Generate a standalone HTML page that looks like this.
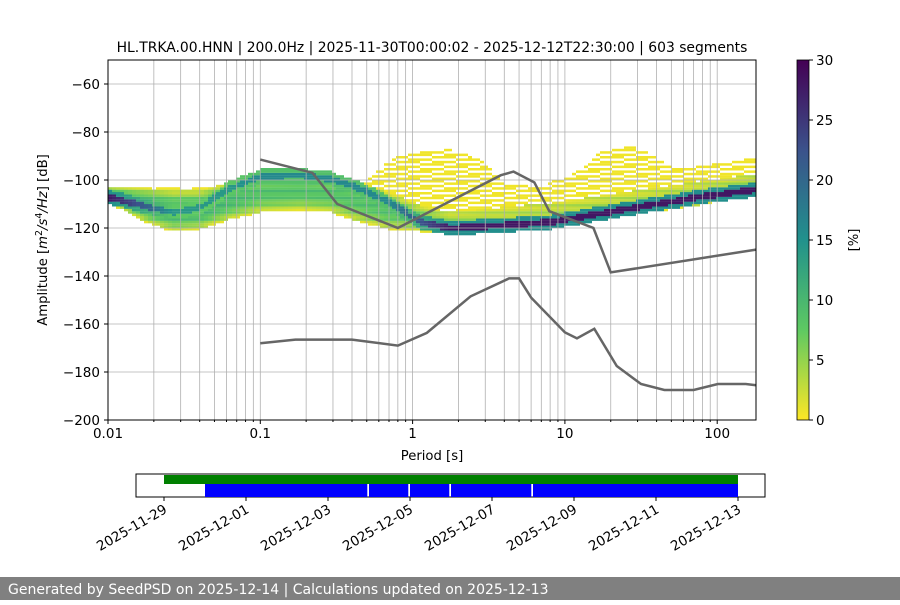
<!DOCTYPE html>
<html><head><meta charset="utf-8"><style>
body{margin:0;background:#fff;}
svg text{font-family:"DejaVu Sans","Liberation Sans",sans-serif;}
</style></head><body>
<svg id="c" width="900" height="600" xmlns="http://www.w3.org/2000/svg">
<g id="hist"></g>
<g id="grid"></g>
<g id="models"></g>
<rect x="108" y="60" width="648" height="360" fill="none" stroke="#000" stroke-width="1"/>
<g id="axes"></g>
<text x="432" y="52" font-size="13.9" text-anchor="middle">HL.TRKA.00.HNN | 200.0Hz | 2025-11-30T00:00:02 - 2025-12-12T22:30:00 | 603 segments</text>
<text x="432" y="460" font-size="13.2" text-anchor="middle">Period [s]</text>
<text transform="translate(47,240) rotate(-90)" font-size="13.2" text-anchor="middle">Amplitude [<tspan font-style="italic">m</tspan><tspan font-size="9.5" dy="-5">2</tspan><tspan dy="5" font-style="italic">/s</tspan><tspan font-size="9.5" dy="-5">4</tspan><tspan dy="5" font-style="italic">/Hz</tspan>] [dB]</text>
<defs><linearGradient id="vir" x1="0" y1="1" x2="0" y2="0">
<stop offset="0" stop-color="#fde725"/><stop offset="0.25" stop-color="#5ec962"/><stop offset="0.5" stop-color="#21918c"/><stop offset="0.75" stop-color="#3b528b"/><stop offset="1" stop-color="#440154"/></linearGradient></defs>
<rect x="797" y="60" width="12" height="360" fill="url(#vir)" stroke="#000" stroke-width="0.8"/>
<g id="cbticks"></g>
<text transform="translate(858,240) rotate(-90)" font-size="13.2" text-anchor="middle">[%]</text>
<g id="timeline"></g>
<rect x="0" y="577" width="900" height="23" fill="#808080"/>
<text x="8" y="594" font-size="14" fill="#fff">Generated by SeedPSD on 2025-12-14 | Calculations updated on 2025-12-13</text>
</svg>
<script>
// ---- data ----
const histPeriods=[0.01,0.019,0.027,0.04,0.063,0.1,0.18,0.29,0.45,0.71,1.12,1.77,3.7,8,17,36,77,180];
const modeDb=[-107.5,-112,-114,-112,-104,-99,-98.5,-100,-104,-110,-118,-120.5,-119.5,-118,-114.5,-111,-107.5,-104.5];
const modeStrength=[28,20,14,14,14,16,16,16,16,16,22,28,28,28,28,28,28,28];
const topDb=[-103,-104,-105,-105,-101,-98,-97.5,-98.5,-101,-106,-111,-114,-112,-110,-107,-104,-101,-98];
const bottomDb=[-110,-119,-122,-121,-117,-114,-113,-114,-118,-121,-122,-122.5,-121.5,-120,-117,-114,-111,-107];
const bandStrength=[8,9,9,9,8,7,7,7,7,7,5,3,2,2,2,2,2,3];
const sparsePeriods=[0.01,0.03,0.5,0.8,1.2,1.8,2.8,4,7,12,16,22,30,50,80,180];
const sparseTopDb=[-103,-104,-100,-90,-87.5,-88,-92,-101,-103,-97,-90,-86,-87,-95,-95,-90];
const highModelP=[0.1,0.22,0.32,0.8,3.8,4.6,6.3,7.9,15.4,20,180];
const highModelDb=[-91.5,-97,-110,-120,-98,-96.5,-101,-113,-120,-138.5,-129];
const lowModelP=[0.1,0.17,0.4,0.8,1.24,2.4,4.3,5,6,10,12,15.6,21.9,31.6,45,70,101,154,180];
const lowModelDb=[-168,-166.5,-166.5,-169,-163.7,-148.5,-141,-141,-149,-163.5,-166,-162,-177.5,-185,-187.5,-187.5,-185,-185,-185.5];
const yTicks=[-60,-80,-100,-120,-140,-160,-180,-200];
const xTicks=[0.01,0.1,1,10,100];
const xTickLabels=["0.01","0.1","1","10","100"];
const cbTicks=[0,5,10,15,20,25,30];
const dateTicks=["2025-11-29","2025-12-01","2025-12-03","2025-12-05","2025-12-07","2025-12-09","2025-12-11","2025-12-13"];
const greenSpan=["2025-11-29T00:00","2025-12-13T00:00"];
const blueSpans=[["2025-11-30T00:00","2025-12-03T23:00"],["2025-12-04T00:00","2025-12-04T23:00"],["2025-12-05T00:00","2025-12-05T23:00"],["2025-12-06T00:00","2025-12-07T23:00"],["2025-12-08T00:00","2025-12-13T00:00"]];
// ---- axes ----
const NS="http://www.w3.org/2000/svg";
const X=p=>108+(Math.log10(p)+2)*152.3;
const Y=d=>60+(-50-d)*2.4;
const T0=Date.parse("2025-11-29T00:00Z");
const TX=s=>164+(Date.parse(s+(s.length>10?"Z":"T00:00Z"))-T0)/86400000*41;
function mk(tag,at,parent){const e=document.createElementNS(NS,tag);for(const k in at)e.setAttribute(k,at[k]);document.getElementById(parent).appendChild(e);return e;}
function interp(xs,ys,p){const l=Math.log10(p);for(let i=0;i<xs.length-1;i++){const a=Math.log10(xs[i]),b=Math.log10(xs[i+1]);if(l<=b){const t=(l-a)/(b-a);return ys[i]+t*(ys[i+1]-ys[i]);}}return ys[ys.length-1];}
function vir(v){const t=1-Math.min(v,30)/30;const st=[[68,1,84],[59,82,139],[33,145,140],[94,201,98],[253,231,37]];const f=t*4,i=Math.min(3,Math.floor(f)),r=f-i;const c=st[i].map((a,k)=>Math.round(a+(st[i+1][k]-a)*r));return`rgb(${c})`;}
// histogram
for(let x=108,ci=0;x<756;x+=4,ci++){
  const p=Math.pow(10,(x+2-108)/152.3-2);
  const m=interp(histPeriods,modeDb,p),ms=interp(histPeriods,modeStrength,p),tp=interp(histPeriods,topDb,p),bt=interp(histPeriods,bottomDb,p),bs=interp(histPeriods,bandStrength,p),sp=interp(sparsePeriods,sparseTopDb,p);
  for(let d=-124;d<=-84;d+=1){
    let v=-1;
    if(Math.abs(d-m)<1.3)v=ms;
    else if(Math.abs(d-m)<3)v=ms*0.55;
    else if(d>=bt&&d<=tp){const t=(d-bt)/Math.max(1,tp-bt);v=1+bs*Math.sin(Math.PI*t)+((d%3===0)?2:0);}
    else if(d>tp&&d<=sp){ if(((Math.floor(ci/3)*5+d*3)%7+7)%7<4)v=0.6; }
    if(v<0)continue;
    const r=mk('rect',{x:x,y:Y(d+1),width:4,height:2.5,fill:vir(v)},'hist');
    
    
  }
}
// grid
for(let k=-2;k<=2;k++)for(let j=1;j<10;j++){const p=j*Math.pow(10,k);const x=X(p);if(x<108||x>756)continue;
  const l=mk('line',{x1:x,x2:x,y1:60,y2:420,stroke:'#b0b0b0','stroke-width':0.8},'grid');
  
  }
yTicks.forEach(d=>{const l=mk('line',{x1:108,x2:756,y1:Y(d),y2:Y(d),stroke:'#b0b0b0','stroke-width':0.8},'grid');
  
  });
// models
[[highModelP,highModelDb,'high-noise-model'],[lowModelP,lowModelDb,'low-noise-model']].forEach(([ps,ds,n])=>{
  const pl=mk('polyline',{points:ps.map((p,i)=>X(p)+','+Y(ds[i])).join(' '),fill:'none',stroke:'#666','stroke-width':2.5},'models');
  
  });
// ticks
yTicks.forEach(d=>{mk('line',{x1:104,x2:108,y1:Y(d),y2:Y(d),stroke:'#000'},'axes');
  const t=mk('text',{x:100,y:Y(d)+5,'font-size':13.5,'text-anchor':'end'},'axes');t.textContent='\u2212'+Math.abs(d);
  
  });
xTicks.forEach((p,i)=>{mk('line',{x1:X(p),x2:X(p),y1:420,y2:424,stroke:'#000'},'axes');
  const t=mk('text',{x:X(p),y:438,'font-size':13.5,'text-anchor':'middle'},'axes');t.textContent=xTickLabels[i];
  
  });
for(let k=-2;k<=2;k++)for(let j=2;j<10;j++){const x=X(j*Math.pow(10,k));if(x>756)continue;mk('line',{x1:x,x2:x,y1:420,y2:422,stroke:'#000'},'axes');}
cbTicks.forEach(v=>{const y=420-v*12;mk('line',{x1:809,x2:813,y1:y,y2:y,stroke:'#000'},'cbticks');
  const t=mk('text',{x:816,y:y+5,'font-size':13.5},'cbticks');t.textContent=v;
  
  });
// timeline
mk('rect',{x:136,y:474,width:629,height:23,fill:'#fff',stroke:'#000'},'timeline');
const g=mk('rect',{x:TX(greenSpan[0]),y:475,width:TX(greenSpan[1])-TX(greenSpan[0]),height:9,fill:'#008000'},'timeline');


blueSpans.forEach(s=>{const b=mk('rect',{x:TX(s[0]),y:484,width:TX(s[1])-TX(s[0]),height:13,fill:'#0000ff'},'timeline');
  
  });
dateTicks.forEach(s=>{const x=TX(s);mk('line',{x1:x,x2:x,y1:497,y2:501,stroke:'#000'},'timeline');
  const t=mk('text',{transform:`translate(${x+4},${512}) rotate(-30)`,'font-size':13.5,'text-anchor':'end'},'timeline');t.textContent=s;
  
  });
</script>
</body></html>
